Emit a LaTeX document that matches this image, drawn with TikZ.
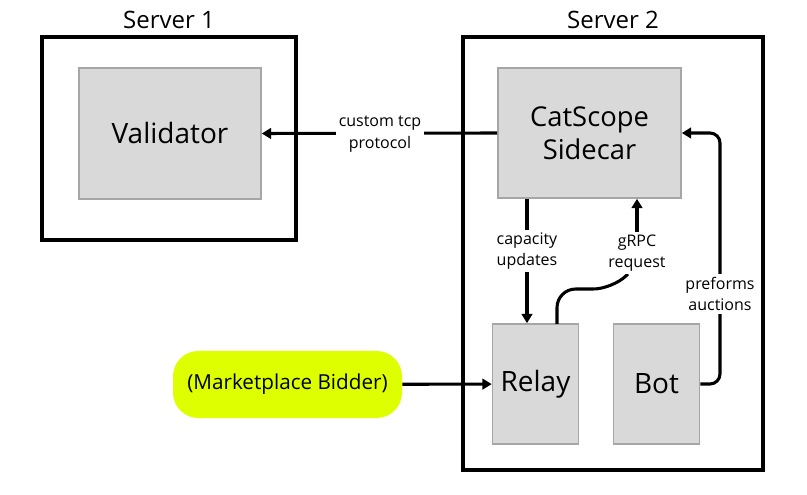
\documentclass[tikz,border=0pt]{standalone}
\usepackage{fontspec}
\setmainfont{Open Sans}
\usetikzlibrary{arrows.meta}
\definecolor{boxgray}{HTML}{D9D9D9}
\definecolor{boxline}{HTML}{A6A6A6}
\definecolor{lime}{HTML}{DDFF00}
\tikzset{
  frame/.style={draw=black, line width=2.3pt},
  box/.style={draw=boxline, fill=boxgray, line width=1.2pt, align=center},
  conn/.style={line width=2.3pt, -{Triangle[length=7pt,width=8pt]}},
  lbl/.style={fill=white, align=center, inner sep=2pt, font=\fontsize{12}{16}\selectfont},
}
\begin{document}
\begin{tikzpicture}[x=0.75pt, y=-0.75pt]
  \useasboundingbox (0,0) rectangle (807,495);
  % servers
  \draw[frame] (42,37) rectangle (296,240);
  \draw[frame] (463,37) rectangle (763,470);
  \draw(169,20) node(s1) {\fontsize{18}{20}\selectfont Server 1};
  \draw(613,20) node(s2) {\fontsize{18}{20}\selectfont Server 2};
  % boxes
  \node[box, minimum width=182*0.75pt, minimum height=131*0.75pt, font=\fontsize{21}{24}\selectfont] (validator) at (170,133.5) {Validator};
  \node[box, minimum width=183*0.75pt, minimum height=130*0.75pt, font=\fontsize{20.5}{25}\selectfont] (catscope) at (589.5,133) {CatScope\\Sidecar};
  \foreach \n / \x / \txt in {relay/535.5/Relay, bot/656.5/Bot}
  {
    \node[box, minimum width=86*0.75pt, minimum height=120*0.75pt, font=\fontsize{21}{24}\selectfont] (\n) at (\x,384) {\txt};
  }
  \node[fill=lime, rounded corners=19pt, minimum width=229*0.75pt, minimum height=67*0.75pt, font=\fontsize{15.5}{18}\selectfont] (bidder) at (287.5,384.5) {(Marketplace Bidder)};
  % links
  \draw[conn] (bidder) -- (relay);
  \draw[conn] (catscope.west) -- (validator.east);
  \node[lbl] (tcp) at (380,134) {custom tcp\\protocol};
  \draw[conn] (catscope.south -| 527,0) -- (relay.north -| 527,0);
  \node[lbl] (cap) at (527,251) {capacity\\updates};
  \coordinate (g0) at (557,324);
  \draw[line width=2.3pt, rounded corners=14pt] (g0) -- (557,289) -- (612,289) -- (628,274);
  \node[lbl] (grpc) at (637,253) {gRPC\\request};
  \draw[conn] (grpc.north) -- (catscope.south -| grpc.north);
  \draw[conn, rounded corners=7.5pt] (bot.east) -- (720,384) -- (720,133) -- (catscope.east);
  \node[lbl] (auc) at (720,294) {preforms\\auctions};
\end{tikzpicture}
\end{document}
